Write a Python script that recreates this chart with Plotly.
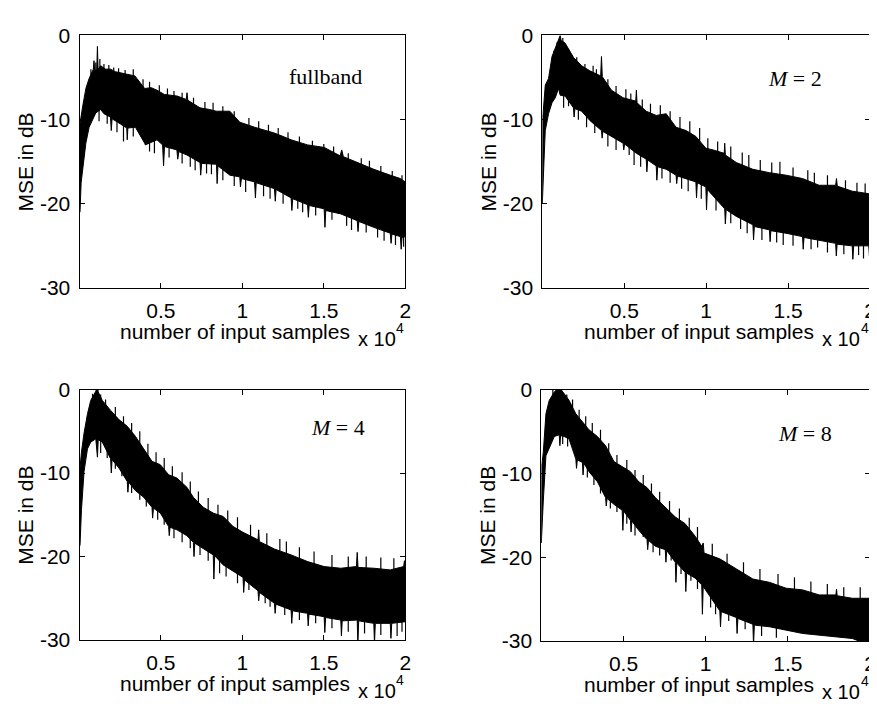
import plotly.graph_objects as go

# ---------------- data ----------------
x_tick_vals = [5000, 10000, 15000, 20000]
x_tick_text = ["0.5", "1", "1.5", "2"]
y_tick_vals = [-30, -20, -10, 0]
y_tick_text = ["-30", "-20", "-10", "0"]

panel_labels = ["fullband", "<i>M</i> = 2", "<i>M</i> = 4", "<i>M</i> = 8"]

# fullband: upper / lower envelope of the noisy MSE curve
fb_up_x = [0, 30, 180, 390, 590, 790, 850, 890, 930, 1060, 1100, 1140, 1300, 1600, 1900, 2200, 2500, 2900,
           3400, 3700, 4000, 4400, 4760, 5200, 6000, 6550, 6600, 6650, 7400, 8000, 8400, 9230, 9840, 10750,
           11970, 12500, 12990, 14000, 15020, 16000, 16100, 16200, 17050, 18070, 19080, 19700, 20000]
fb_up_y = [-21, -10.5, -8.6, -6.3, -5.1, -4.2, -4.0, -3.0, -4.2, -4.0, -1.3, -4.0, -3.6, -4.0, -4.0, -4.3, -4.4, -4.6,
           -4.8, -5.6, -6.3, -6.2, -6.5, -7.0, -7.2, -7.6, -6.8, -7.7, -8.6, -8.8, -9.0, -9.0, -10.3, -10.9,
           -11.6, -12.0, -12.4, -13.0, -13.3, -14.3, -13.6, -14.4, -15.1, -15.9, -16.6, -17.0, -17.4]
fb_lo_x = [0, 30, 100, 180, 390, 590, 790, 1000, 1300, 1500, 1900, 1950, 2000, 2500, 2900, 2930, 2970, 3430,
           4000, 4040, 4760, 5100, 5160, 5220, 5980, 6030, 6100, 6590, 7400, 7440, 7500, 8410, 8450, 8500,
           9230, 9840, 9880, 9940, 10750, 10800, 10850, 11970, 12020, 12070, 12990, 13040, 13090, 14000,
           14050, 14100, 15020, 15070, 15120, 16040, 17050, 17100, 17150, 18070, 19080, 19130, 19180, 19700,
           19750, 19800, 20000]
fb_lo_y = [-21, -21, -17.5, -15.9, -12.8, -10.9, -10.1, -9.2, -8.8, -9.3, -9.7, -11.3, -9.9, -10.5, -11.0, -12.4, -11.0, -10.9,
           -12.8, -13.0, -12.4, -13.0, -15.5, -13.2, -13.6, -14.7, -13.8, -14.2, -15.1, -16.6, -15.2, -15.3, -17.6, -15.5,
           -16.6, -16.8, -18.0, -17.0, -17.4, -19.3, -17.5, -18.2, -19.7, -18.3, -19.3, -20.8, -19.4, -20.1,
           -21.6, -20.2, -20.6, -22.8, -20.8, -21.2, -22.0, -23.3, -22.1, -22.8, -23.5, -24.7, -23.6, -23.9,
           -25.4, -24.0, -23.9]
# isolated noise needles poking out of the band: (x, tip)
fb_needle_up_x = [700, 1000, 1250, 1500, 1800, 2100, 2400, 2800, 3300, 3900, 4300, 4900, 5400, 5800, 6300, 7000,
                  7700, 8200, 8800, 9500, 10400, 11000, 11600, 12200, 12800, 13500, 14300, 15000, 15600, 16500,
                  17300, 17800, 18500, 19200, 19800]
fb_needle_up_y = [-4.0, -3.2, -2.8, -3.4, -3.5, -3.8, -3.9, -4.1, -4.0, -5.2, -5.5, -5.9, -6.3, -6.6, -6.8, -7.4,
                  -7.9, -8.0, -8.4, -9.0, -9.8, -10.2, -10.6, -11.0, -11.5, -12.0, -12.5, -12.9, -13.2, -14.0,
                  -14.6, -14.9, -15.5, -16.1, -16.6]
fb_needle_dn_x = [1200, 1700, 2300, 2700, 3300, 3700, 4300, 4600, 5500, 6300, 6800, 7100, 7800, 8100, 8800, 9500,
                  10200, 11300, 11700, 12500, 13400, 13700, 14500, 15500, 16400, 16700, 17600, 18300, 18700,
                  19400, 19900]
fb_needle_dn_y = [-10.2, -10.5, -11.5, -12.6, -12.0, -11.8, -13.8, -14.0, -14.5, -15.2, -15.6, -16.0, -16.4, -16.5,
                  -17.2, -17.9, -18.6, -19.1, -19.4, -20.0, -20.6, -21.0, -21.4, -21.9, -22.6, -23.1, -23.4,
                  -24.0, -24.4, -24.9, -25.1]

# M = 2
m2_up_x = [0, 30, 180, 380, 590, 790, 990, 1090, 1150, 1390, 1900, 2400, 2900, 3560, 3610, 3660, 4220, 4930,
           5700, 5740, 5780, 6340, 6950, 7560, 8160, 8770, 9370, 9980, 10420, 11100, 11130, 11170, 11840,
           12850, 13860, 14870, 15880, 16890, 17900, 17950, 18000, 18910, 19920, 20000]
m2_up_y = [-20, -9.7, -5.9, -5.1, -2.5, -1.5, -0.5, 0.0, -0.6, -0.9, -2.6, -3.6, -4.2, -4.8, -2.5, -4.9, -6.5, -7.4,
           -7.8, -6.5, -8.0, -9.0, -9.5, -9.3, -10.9, -11.3, -12.0, -13.4, -13.6, -14.0, -12.8, -14.2, -15.1,
           -15.9, -16.3, -16.6, -17.0, -17.8, -17.8, -17.0, -17.9, -18.5, -18.8, -19.0]
m2_lo_x = [0, 30, 100, 180, 380, 590, 790, 990, 1090, 1390, 1900, 1940, 1990, 2400, 2900, 3610, 3650, 3700,
           4220, 4930, 4970, 5020, 5740, 6340, 6380, 6430, 6950, 6990, 7040, 7560, 8160, 8200, 8250, 8770,
           9370, 9410, 9460, 9980, 10020, 10070, 10420, 11130, 11170, 11220, 11840, 12850, 12890, 12940,
           13860, 13900, 13950, 14870, 15880, 15920, 15970, 16890, 17900, 17940, 17990, 18910, 18950, 19000,
           19920, 19960, 20000]
m2_lo_y = [-20, -20, -15, -11.3, -9.3, -8.0, -7.4, -6.3, -7.1, -7.2, -8.6, -9.7, -8.7, -9.0, -10.1, -11.3, -12.2, -11.4,
           -12.0, -12.8, -13.6, -12.9, -14.0, -14.7, -16.2, -14.8, -15.5, -17.2, -15.6, -15.9, -16.6, -17.6, -16.7, -17.0,
           -17.4, -19.3, -17.5, -18.0, -20.7, -18.3, -19.0, -20.6, -22.4, -20.7, -21.5, -22.5, -24.3, -22.7,
           -23.1, -24.5, -23.2, -23.5, -23.9, -25.4, -24.0, -24.3, -24.7, -26.2, -24.8, -25.0, -26.6, -25.0,
           -25.0, -26.2, -25.0]
m2_needle_up_x = [700, 900, 1250, 1600, 2100, 2600, 3100, 3300, 4000, 4500, 5100, 5400, 6100, 6600, 7200, 7800,
                  8400, 9000, 9600, 10100, 10700, 11500, 12200, 12600, 13300, 14000, 14500, 15300, 16200, 16600,
                  17400, 18500, 19200, 19700]
m2_needle_up_y = [-1.8, -0.8, -0.3, -1.6, -2.6, -3.4, -3.6, -4.0, -5.2, -6.0, -6.4, -6.9, -7.6, -8.1, -8.3, -9.0,
                  -9.7, -10.2, -11.0, -12.2, -12.6, -13.2, -13.9, -14.2, -14.8, -15.1, -15.0, -15.7, -16.0, -16.3,
                  -16.6, -17.2, -17.5, -17.6]
m2_needle_dn_x = [1300, 1600, 2200, 2700, 3200, 4000, 4500, 5300, 5600, 6000, 7300, 7800, 8500, 8900, 9700, 10600,
                  11500, 12100, 12500, 13400, 14300, 14700, 15300, 16400, 16800, 17400, 18400, 19300, 19600]
m2_needle_dn_y = [-8.6, -8.4, -10.0, -10.9, -11.6, -13.2, -13.6, -14.2, -15.4, -15.6, -17.0, -17.5, -18.2, -18.5,
                  -19.4, -20.8, -22.3, -23.0, -23.5, -24.3, -24.6, -24.9, -25.0, -25.4, -25.2, -25.8, -26.0,
                  -26.1, -26.5]

# M = 4
m4_up_x = [0, 30, 120, 280, 490, 690, 1000, 1100, 1150, 1400, 1910, 2420, 2930, 3430, 3940, 4450, 4960, 5470,
           5980, 6590, 6990, 7600, 8210, 8820, 9430, 10040, 10960, 11000, 11040, 11970, 12990, 14000, 15020,
           16040, 17000, 17050, 17100, 18070, 19080, 19900, 19950, 20000]
m4_up_y = [-18.7, -9.4, -7.5, -5.2, -2.9, -1.3, -0.2, 0.5, -0.3, -1.3, -2.5, -3.6, -4.4, -5.6, -7.1, -8.6, -9.0, -10.2,
           -10.6, -11.7, -12.9, -14.1, -14.8, -15.2, -16.4, -17.1, -18.0, -16.8, -18.2, -19.1, -19.8, -20.6, -21.2,
           -21.4, -21.2, -19.5, -21.3, -21.4, -21.6, -21.2, -20.5, -21.0]
m4_lo_x = [0, 30, 120, 280, 490, 690, 1000, 1100, 1150, 1400, 1910, 1950, 2000, 2420, 2930, 2970, 3020, 3430,
           3940, 4450, 4490, 4540, 4960, 5470, 5510, 5560, 5980, 6590, 6990, 7030, 7080, 7600, 8210, 8250,
           8300, 8820, 9430, 10040, 10080, 10130, 10960, 11000, 11050, 11970, 12010, 12060, 12990, 13030,
           13080, 14000, 14040, 14090, 15020, 15060, 15110, 16040, 16080, 16130, 17050, 17090, 17140, 18070,
           18110, 18160, 19080, 19120, 19170, 20000]
m4_lo_y = [-18.7, -18.7, -14.4, -9.8, -7.1, -6.3, -5.9, -8.1, -6.0, -6.3, -8.3, -10.0, -8.4, -9.4, -11.0, -12.3, -11.1, -12.1,
           -12.9, -14.1, -15.4, -14.2, -14.8, -16.4, -17.5, -16.5, -16.8, -17.5, -18.3, -20.0, -18.4, -19.1, -19.8, -22.7,
           -19.9, -21.0, -21.8, -22.5, -24.3, -22.8, -24.1, -25.3, -24.3, -25.6, -26.8, -25.7, -26.4, -28.0,
           -26.5, -26.8, -28.3, -26.9, -27.2, -29.1, -27.3, -27.6, -29.5, -27.7, -27.6, -30.5, -27.7, -28.0,
           -30.5, -28.0, -28.0, -29.8, -28.0, -27.8]
m4_needle_up_x = [800, 1300, 1600, 2200, 2700, 3200, 3700, 4200, 4700, 5200, 5700, 6300, 6800, 7300, 7900, 8500,
                  9100, 9700, 10500, 11500, 12300, 12700, 13500, 14400, 15500, 16500, 17600, 18500, 19300]
m4_needle_up_y = [-0.5, -0.6, -1.2, -2.1, -3.2, -4.0, -5.0, -6.5, -7.5, -8.2, -9.2, -9.9, -11.0, -12.2, -13.0, -13.8,
                  -14.5, -15.3, -16.2, -17.2, -17.9, -18.2, -18.9, -19.4, -19.8, -20.0, -20.0, -20.1, -20.2]
m4_needle_dn_x = [1300, 1700, 2200, 2600, 3200, 3700, 4100, 4800, 5200, 5800, 6300, 6800, 7400, 7900, 8600, 9000,
                  9700, 10400, 11400, 11700, 12600, 13500, 14500, 15500, 16500, 17500, 18500, 19500, 19800]
m4_needle_dn_y = [-7.6, -8.2, -9.5, -10.4, -12.4, -13.2, -14.0, -15.6, -16.2, -17.8, -18.3, -19.0, -19.8, -20.5,
                  -22.0, -22.4, -23.2, -24.0, -25.6, -26.0, -27.0, -27.6, -28.0, -28.6, -29.0, -29.2, -29.4,
                  -29.5, -29.0]

# M = 8
m8_up_x = [0, 30, 120, 280, 480, 790, 1090, 1390, 1690, 2100, 2500, 2900, 3410, 3910, 4420, 4920, 5420, 5930,
           6430, 6940, 7540, 8150, 8750, 9360, 9760, 9850, 9900, 10860, 11870, 12870, 13880, 14890, 15900,
           16910, 17920, 17960, 18000, 18920, 20000]
m8_up_y = [-18.3, -9.0, -7.5, -2.9, -1.3, -0.3, 0.3, -0.5, -1.3, -2.9, -3.8, -4.8, -5.6, -6.7, -8.6, -9.2, -9.8, -11.0,
           -11.7, -12.9, -14.1, -15.2, -16.0, -17.5, -18.7, -18.3, -19.5, -20.2, -21.4, -22.6, -23.0, -23.7, -23.9,
           -24.5, -24.5, -23.8, -24.6, -24.9, -24.9]
m8_lo_x = [0, 30, 120, 280, 480, 790, 1090, 1130, 1170, 1390, 1690, 2100, 2140, 2190, 2500, 2540, 2590, 2900,
           3410, 3910, 3950, 4000, 4420, 4920, 4960, 5010, 5420, 5460, 5510, 5930, 6430, 6470, 6520, 6940,
           7540, 7580, 7630, 8150, 8190, 8240, 8750, 8790, 8840, 9360, 9760, 9800, 9850, 10860, 10900, 10950,
           11870, 11910, 11960, 12870, 12910, 12960, 13880, 14890, 15900, 16910, 17920, 18920, 20000]
m8_lo_y = [-18.3, -18.3, -13.3, -7.9, -7.1, -5.6, -5.4, -6.7, -5.5, -5.6, -5.9, -8.3, -9.4, -8.4, -8.7, -10.2, -8.8, -9.8,
           -11.0, -12.9, -13.9, -13.0, -13.7, -14.4, -16.8, -14.5, -15.6, -17.0, -15.7, -16.8, -17.9, -19.1, -18.0, -18.7,
           -19.1, -20.6, -19.2, -20.6, -23.0, -20.7, -21.8, -24.1, -21.9, -22.5, -23.3, -26.8, -23.5, -26.4, -28.3, -26.5,
           -27.2, -29.1, -27.3, -28.0, -30.5, -28.1, -28.3, -28.7, -29.1, -29.3, -29.5, -29.7, -30.5]
m8_needle_up_x = [700, 1200, 1550, 1900, 2300, 2700, 3100, 3600, 4100, 4600, 5200, 5700, 6200, 6700, 7200, 7800,
                  8400, 9000, 9500, 10400, 11300, 12300, 13300, 14400, 15400, 16400, 17400, 18400, 19400]
m8_needle_up_y = [0.0, 0.0, -0.6, -1.2, -2.4, -3.2, -4.0, -4.8, -6.4, -7.8, -8.4, -9.6, -10.2, -11.2, -12.2, -13.3,
                  -14.2, -15.3, -16.4, -18.4, -19.6, -20.6, -21.4, -22.0, -22.4, -22.9, -23.2, -23.6, -23.6]
m8_needle_dn_x = [1300, 1600, 2000, 2800, 3200, 3600, 4200, 4600, 5200, 5700, 6200, 6800, 7200, 7900, 8500, 9100,
                  9500, 10300, 10600, 11400, 12400, 13400, 14300]
m8_needle_dn_y = [-6.5, -6.8, -7.2, -10.5, -11.4, -12.4, -14.2, -14.6, -16.0, -17.4, -17.6, -19.4, -19.8, -20.4,
                  -22.0, -22.8, -23.8, -26.0, -26.8, -27.6, -28.6, -29.4, -29.6]

panels = [
    (fb_up_x, fb_up_y, fb_lo_x, fb_lo_y, fb_needle_up_x, fb_needle_up_y, fb_needle_dn_x, fb_needle_dn_y),
    (m2_up_x, m2_up_y, m2_lo_x, m2_lo_y, m2_needle_up_x, m2_needle_up_y, m2_needle_dn_x, m2_needle_dn_y),
    (m4_up_x, m4_up_y, m4_lo_x, m4_lo_y, m4_needle_up_x, m4_needle_up_y, m4_needle_dn_x, m4_needle_dn_y),
    (m8_up_x, m8_up_y, m8_lo_x, m8_lo_y, m8_needle_up_x, m8_needle_up_y, m8_needle_dn_x, m8_needle_dn_y),
]

# ---------------- layout ----------------
W, H = 877, 704
# pixel boxes of the four axes: (left, right, top, bottom)
boxes = [(72, 400, 16, 277), (538, 868, 16, 277), (72, 400, 382, 641), (537, 868, 382, 642)]
label_pos = [(320, 58), (792, 60), (332, 421), (802, 427)]
NEEDLE_ROOT = 3.0  # dB length of a needle that is tucked inside the band

SANS = "Liberation Sans, Arial, Helvetica, sans-serif"
SERIF = "Liberation Serif, Times New Roman, serif"


def px(x):
    return x / W


def py(y):
    return 1 - y / H


fig = go.Figure()
annotations = []
layout = dict(
    width=W, height=H, margin=dict(l=0, r=0, t=0, b=0),
    paper_bgcolor="white", plot_bgcolor="white", showlegend=False,
    font=dict(family=SANS, size=21, color="black"),
)

for i, (panel, (l, r, t, b)) in enumerate(zip(panels, boxes)):
    ux, uy, lx, ly, nux, nuy, ndx, ndy = panel
    n = "" if i == 0 else str(i + 1)
    xa, ya = "x" + n, "y" + n
    fig.add_trace(go.Scatter(
        x=list(ux) + list(lx)[::-1], y=list(uy) + list(ly)[::-1],
        mode="lines", fill="toself", fillcolor="black",
        line=dict(color="black", width=1), xaxis=xa, yaxis=ya,
        hoverinfo="skip",
    ))
    nx, ny = [], []
    for xv, yv in zip(nux, nuy):
        nx += [xv, xv, None]
        ny += [yv, yv - NEEDLE_ROOT, None]
    for xv, yv in zip(ndx, ndy):
        nx += [xv, xv, None]
        ny += [yv, yv + NEEDLE_ROOT, None]
    fig.add_trace(go.Scatter(x=nx, y=ny, mode="lines", line=dict(color="black", width=1.2),
                             xaxis=xa, yaxis=ya, hoverinfo="skip"))

    common = dict(showline=True, linecolor="black", linewidth=1, mirror="ticks",
                  ticks="inside", ticklen=5, tickcolor="black", tickwidth=1,
                  showgrid=False, zeroline=False, ticklabelstandoff=4,
                  tickfont=dict(family=SANS, size=21, color="black"))
    layout["xaxis" + n] = dict(domain=[px(l), px(r)], range=[0, 20000], anchor=ya,
                               tickmode="array", tickvals=x_tick_vals, ticktext=x_tick_text, **common)
    layout["yaxis" + n] = dict(domain=[py(b), py(t)], range=[-30, 0], anchor=xa,
                               tickmode="array", tickvals=y_tick_vals, ticktext=y_tick_text, **common)

    # axis titles
    annotations.append(dict(text="number of input samples", x=px((l + r) / 2 - 7), y=py(b + 45),
                            xref="paper", yref="paper", showarrow=False, xanchor="center", yanchor="middle",
                            font=dict(family=SANS, size=21)))
    annotations.append(dict(text="x 10", x=px(r - 50), y=py(b + 53), xref="paper", yref="paper",
                            showarrow=False, xanchor="left", yanchor="middle", font=dict(family=SANS, size=20)))
    annotations.append(dict(text="4", x=px(r - 11), y=py(b + 41), xref="paper", yref="paper",
                            showarrow=False, xanchor="left", yanchor="middle", font=dict(family=SANS, size=14)))
    annotations.append(dict(text="MSE in dB", x=px(l - 54), y=py((t + b) / 2), xref="paper", yref="paper",
                            showarrow=False, textangle=-90, xanchor="center", yanchor="middle",
                            font=dict(family=SANS, size=21)))
    lx_, ly_ = label_pos[i]
    annotations.append(dict(text=panel_labels[i], x=px(lx_), y=py(ly_), xref="paper", yref="paper",
                            showarrow=False, xanchor="center", yanchor="middle",
                            font=dict(family=SERIF, size=22)))

layout["annotations"] = annotations
fig.update_layout(**layout)
fig.write_html("out.html")
